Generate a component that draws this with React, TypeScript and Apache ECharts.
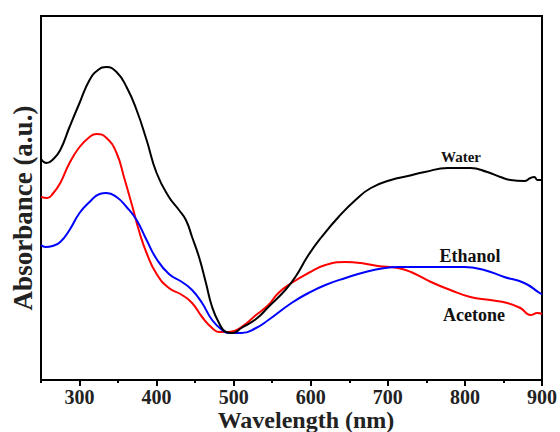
import React, { useEffect, useRef } from "react";
import * as echarts from "echarts";

// Wavelength (nm) sample points and absorbance (arbitrary units)
const waterX = [250, 257, 266, 275, 287, 300, 313, 324, 335, 348, 361, 374, 387, 400, 416, 429, 438, 446, 455, 464, 472, 481, 490, 498, 510, 529, 545, 567, 580, 597, 614, 636, 658, 678, 704, 726, 748, 778, 807, 829, 846, 859, 877, 885, 890, 894, 900];
const waterY = [221, 217, 221, 230, 253, 277, 300, 310, 313, 308, 293, 270, 240, 207, 183, 170, 160, 143, 123, 97, 73, 57, 48, 47, 52, 61, 73, 90, 103, 125, 143, 163, 180, 192, 200, 204, 208, 212, 212, 208, 203, 200, 199, 202, 203, 200, 200];

const ethanolX = [250, 256, 265, 275, 287, 300, 313, 326, 335, 348, 361, 374, 387, 400, 416, 433, 446, 459, 472, 485, 494, 510, 529, 545, 575, 597, 619, 645, 671, 696, 713, 726, 756, 799, 825, 851, 877, 897, 900];
const ethanolY = [135, 133, 134, 138, 150, 167, 178, 186, 187, 183, 173, 160, 140, 121, 106, 98, 90, 77, 60, 50, 47, 47, 52, 60, 77, 87, 95, 102, 108, 112, 113, 113, 113, 113, 110, 103, 97, 87, 86];

const acetoneX = [250, 258, 266, 275, 287, 300, 313, 322, 335, 348, 358, 368, 378, 387, 400, 416, 433, 446, 459, 472, 481, 494, 510, 529, 545, 558, 575, 597, 619, 645, 665, 687, 713, 730, 756, 781, 807, 833, 855, 872, 885, 894, 900];
const acetoneY = [183, 182, 187, 197, 217, 233, 243, 246, 242, 227, 202, 175, 147, 127, 106, 92, 85, 77, 63, 52, 48, 48, 53, 65, 75, 87, 97, 107, 115, 118, 117, 114, 112, 108, 98, 90, 83, 80, 77, 72, 65, 67, 66];

const majorTicks = [300, 400, 500, 600, 700, 800, 900];
const minorTicks = [250, 350, 450, 550, 650, 750, 850];

const seriesNames = ["Water", "Ethanol", "Acetone"];
const seriesColors = ["#000000", "#0000ff", "#ff0000"];

const FONT = "'Liberation Serif', 'Times New Roman', serif";

function zip(xs: number[], ys: number[]) {
  return xs.map((x, i) => [x, ys[i]]);
}

export default function App() {
  const ref = useRef<HTMLDivElement>(null);
  useEffect(() => {
    if (!ref.current) return;
    const chart = echarts.init(ref.current, undefined, { renderer: "svg" });
    const data = [zip(waterX, waterY), zip(ethanolX, ethanolY), zip(acetoneX, acetoneY)];
    chart.setOption({
      animation: false,
      backgroundColor: "#ffffff",
      grid: {
        left: 41,
        right: 15,
        top: 16,
        bottom: 52,
        show: true,
        borderColor: "#000",
        borderWidth: 2,
      },
      xAxis: [
        {
          type: "value",
          min: 250,
          max: 900,
          interval: 50,
          position: "bottom",
          axisLine: { show: true, onZero: false, lineStyle: { color: "#000", width: 2 } },
          axisTick: {
            show: true,
            length: 6,
            customValues: majorTicks,
            lineStyle: { color: "#000", width: 2 },
          },
          axisLabel: {
            show: true,
            customValues: majorTicks,
            color: "#222",
            fontFamily: FONT,
            fontWeight: "bold",
            fontSize: 20,
            margin: 7,
            showMaxLabel: true,
          },
          splitLine: { show: false },
        },
        {
          type: "value",
          min: 250,
          max: 900,
          interval: 50,
          position: "bottom",
          axisLine: { show: false },
          axisTick: {
            show: true,
            length: 3,
            customValues: minorTicks,
            lineStyle: { color: "#000", width: 2 },
          },
          axisLabel: { show: false },
          splitLine: { show: false },
        },
      ],
      yAxis: {
        type: "value",
        min: 0,
        max: 364,
        axisLine: { show: true, lineStyle: { color: "#000", width: 2 } },
        axisTick: { show: false },
        axisLabel: { show: false },
        splitLine: { show: false },
      },
      series: data.map((d, i) => ({
        name: seriesNames[i],
        type: "line",
        data: d,
        smooth: 0.5,
        showSymbol: false,
        symbol: "none",
        lineStyle: { color: seriesColors[i], width: 2 },
        z: 3 - i,
      })),
      graphic: [
        {
          type: "text",
          x: 306,
          y: 420,
          style: {
            text: "Wavelength (nm)",
            fontFamily: FONT,
            fontWeight: "bold",
            fontSize: 24,
            fill: "#222",
            textAlign: "center",
            textVerticalAlign: "middle",
          },
        },
        {
          type: "text",
          x: 23,
          y: 208,
          rotation: Math.PI / 2,
          style: {
            text: "Absorbance (a.u.)",
            fontFamily: FONT,
            fontWeight: "bold",
            fontSize: 27,
            fill: "#222",
            textAlign: "center",
            textVerticalAlign: "middle",
          },
        },
        {
          type: "text",
          x: 461,
          y: 157,
          style: {
            text: "Water",
            fontFamily: FONT,
            fontWeight: "bold",
            fontSize: 15,
            fill: "#111",
            textAlign: "center",
            textVerticalAlign: "middle",
          },
        },
        {
          type: "text",
          x: 470,
          y: 256,
          style: {
            text: "Ethanol",
            fontFamily: FONT,
            fontWeight: "bold",
            fontSize: 18,
            fill: "#111",
            textAlign: "center",
            textVerticalAlign: "middle",
          },
        },
        {
          type: "text",
          x: 474,
          y: 315,
          style: {
            text: "Acetone",
            fontFamily: FONT,
            fontWeight: "bold",
            fontSize: 18,
            fill: "#111",
            textAlign: "center",
            textVerticalAlign: "middle",
          },
        },
      ],
    });
    return () => chart.dispose();
  }, []);
  return (
    <div
      ref={ref}
      style={{ position: "fixed", left: 0, top: 0, width: 560, height: 432, background: "#fff" }}
    />
  );
}
